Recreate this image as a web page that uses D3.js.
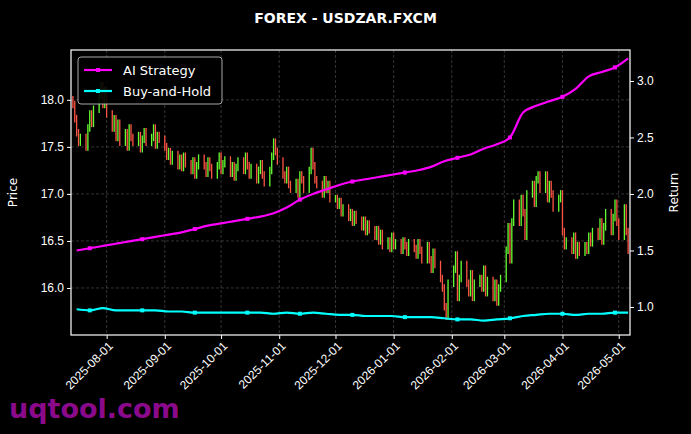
<!DOCTYPE html>
<html><head><meta charset="utf-8">
<script src="https://cdn.jsdelivr.net/npm/d3@7"></script>
<style>body{margin:0;background:#000}svg{font-family:"DejaVu Sans",sans-serif}</style>
</head><body><div id="root"></div>
<script>
// weekly blocks of business-day closes, week starting 2025-07-14
const closes = [
 17.95,17.80,17.65,17.55,17.60, 17.50,17.70,17.85,17.75,17.90, 18.05,18.15,17.95,18.10,17.85,
 17.70,17.80,17.60,17.75,17.55, 17.65,17.50,17.70,17.60,17.55, 17.62,17.48,17.58,17.66,17.55,
 17.60,17.70,17.52,17.62,17.58, 17.50,17.40,17.45,17.35,17.42, 17.30,17.38,17.28,17.40,17.32,
 17.25,17.35,17.20,17.30,17.38, 17.30,17.22,17.35,17.28,17.20, 17.30,17.40,17.25,17.32,17.36,
 17.22,17.30,17.18,17.28,17.35, 17.25,17.40,17.30,17.20,17.28, 17.15,17.25,17.32,17.20,17.12,
 17.25,17.40,17.55,17.45,17.35, 17.20,17.15,17.25,17.10,17.05, 17.12,17.00,17.20,17.15,17.05,
 17.25,17.45,17.30,17.15,17.10, 17.00,17.15,17.05,17.10,16.95, 16.95,16.88,16.92,16.80,16.85,
 16.75,16.80,16.70,16.78,16.72, 16.65,16.72,16.60,16.68,16.62, 16.55,16.62,16.50,16.58,16.45,
 16.50,16.42,16.55,16.45,16.48, 16.40,16.50,16.45,16.38,16.48, 16.42,16.35,16.48,16.40,16.30,
 16.45,16.30,16.20,16.38,16.25, 16.10,16.00,15.80,15.70,16.05, 16.20,16.35,15.90,16.10,16.25,
 16.05,15.95,16.15,15.90,16.05, 16.10,16.00,16.20,15.95,16.08, 15.90,16.05,15.85,16.00,16.10,
 16.40,16.65,16.30,16.70,16.90, 16.70,16.95,16.80,16.55,17.00, 17.10,16.90,17.15,17.20,17.05,
 17.20,16.95,17.10,17.00,16.85, 16.95,17.00,16.60,16.45,16.50, 16.40,16.55,16.35,16.45,16.38,
 16.45,16.40,16.55,16.48,16.60, 16.55,16.70,16.50,16.65,16.80, 16.60,16.75,16.90,16.70,16.55,
 16.85,16.60,16.40
];
const aiReturn = [1.50,1.52,1.54,1.56,1.58,1.60,1.62,1.64,1.66,1.69,1.72,1.74,1.76,1.78,1.80,1.83,1.88,1.95,2.00,2.04,2.08,2.11,2.13,2.15,2.17,2.19,2.21,2.24,2.29,2.32,2.35,2.40,2.44,2.50,2.72,2.78,2.82,2.86,2.93,3.04,3.08,3.12,3.20];
const bhReturn = [0.98,0.97,0.99,0.97,0.97,0.97,0.97,0.96,0.96,0.95,0.95,0.95,0.95,0.95,0.95,0.94,0.95,0.94,0.95,0.94,0.93,0.93,0.92,0.92,0.92,0.91,0.91,0.91,0.90,0.89,0.89,0.88,0.89,0.90,0.92,0.93,0.94,0.94,0.93,0.94,0.94,0.95,0.95];
const priceTicks = [16.0,16.5,17.0,17.5,18.0];
const returnTicks = [1.0,1.5,2.0,2.5,3.0];
const monthTicks = ["2025-08-01","2025-09-01","2025-10-01","2025-11-01","2025-12-01","2026-01-01","2026-02-01","2026-03-01","2026-04-01","2026-05-01"];

const w = 691, h = 434;
const margin = {top: 50, bottom: 99, left: 71, right: 61};
const parse = d3.timeParse("%Y-%m-%d");

// business days from 2025-07-14
const days = [];
let d = parse("2025-07-14");
while (days.length < closes.length) {
  if (d.getDay() != 0 && d.getDay() != 6) days.push(new Date(d));
  d = d3.timeDay.offset(d, 1);
}
const weeks = aiReturn.map((v, i) => d3.timeDay.offset(parse("2025-07-14"), i * 7 + 2));

const x = d3.scaleTime().domain([parse("2025-07-13"), parse("2026-05-07")]).range([margin.left, w - margin.right]);
const yP = d3.scaleLinear().domain([15.5, 18.53]).range([h - margin.bottom, margin.top]);
const yR = d3.scaleLinear().domain([0.752, 3.274]).range([h - margin.bottom, margin.top]);

const svg = d3.select("#root").append("svg").attr("width", w).attr("height", h);
svg.append("rect").attr("width", w).attr("height", h).attr("fill", "#000");

// grid
const grid = svg.append("g").attr("stroke", "#555").attr("stroke-dasharray", "3,2").attr("stroke-width", 0.6);
monthTicks.forEach(t => grid.append("line").attr("x1", x(parse(t))).attr("x2", x(parse(t))).attr("y1", margin.top).attr("y2", h - margin.bottom));
priceTicks.forEach(t => grid.append("line").attr("x1", margin.left).attr("x2", w - margin.right).attr("y1", yP(t)).attr("y2", yP(t)));

// candles (body plus short wick)
const openOf = i => i ? closes[i - 1] : closes[0] + 0.05;
svg.append("g").selectAll("line").data(closes).enter().append("line")
  .attr("x1", (c, i) => x(days[i])).attr("x2", (c, i) => x(days[i]))
  .attr("y1", (c, i) => yP(Math.max(c, openOf(i)) + 0.04)).attr("y2", (c, i) => yP(Math.min(c, openOf(i)) - 0.04))
  .attr("stroke", (c, i) => c >= openOf(i) ? "#66ff33" : "#ff5544")
  .attr("stroke-width", 1.3);

// return lines
const series = [{name: "AI Strategy", vals: aiReturn, color: "#ff00ff"}, {name: "Buy-and-Hold", vals: bhReturn, color: "#00ffff"}];
const line = d3.line().x((v, i) => x(weeks[i])).y(v => yR(v)).curve(d3.curveMonotoneX);
series.forEach(s => {
  svg.append("path").datum(s.vals).attr("d", line).attr("fill", "none").attr("stroke", s.color).attr("stroke-width", 2.2);
  svg.append("g").selectAll("rect").data(s.vals.filter((v, i) => i % 4 == 1)).enter().append("rect")
    .attr("x", (v, j) => x(weeks[j * 4 + 1]) - 2).attr("y", v => yR(v) - 2)
    .attr("width", 4).attr("height", 4).attr("fill", s.color);
});

// frame
svg.append("rect").attr("x", margin.left).attr("y", margin.top).attr("width", w - margin.left - margin.right)
  .attr("height", h - margin.top - margin.bottom).attr("fill", "none").attr("stroke", "#fff").attr("stroke-width", 1.2);

// axes
const style = g => { g.selectAll("path").remove(); g.selectAll("line").attr("stroke", "#fff"); g.selectAll("text").attr("fill", "#fff").style("font-size", "12px"); };
svg.append("g").attr("transform", "translate(0," + (h - margin.bottom) + ")")
  .call(d3.axisBottom(x).tickValues(monthTicks.map(parse)).tickFormat(d3.timeFormat("%Y-%m-%d")).tickSize(4))
  .call(style)
  .selectAll("text").attr("text-anchor", "end").attr("dx", "-0.3em").attr("dy", "0.5em").attr("transform", "rotate(-45)");
svg.append("g").attr("transform", "translate(" + margin.left + ",0)")
  .call(d3.axisLeft(yP).tickValues(priceTicks).tickFormat(d3.format(".1f")).tickSize(4)).call(style);
svg.append("g").attr("transform", "translate(" + (w - margin.right) + ",0)")
  .call(d3.axisRight(yR).tickValues(returnTicks).tickFormat(d3.format(".1f")).tickSize(4)).call(style);

svg.append("text").attr("x", 17).attr("y", (margin.top + h - margin.bottom) / 2).attr("transform", "rotate(-90,17," + ((margin.top + h - margin.bottom) / 2) + ")")
  .attr("text-anchor", "middle").attr("fill", "#fff").style("font-size", "12px").text("Price");
svg.append("text").attr("x", 678).attr("y", (margin.top + h - margin.bottom) / 2).attr("transform", "rotate(-90,678," + ((margin.top + h - margin.bottom) / 2) + ")")
  .attr("text-anchor", "middle").attr("fill", "#fff").style("font-size", "12px").text("Return");

svg.append("text").attr("x", w / 2).attr("y", 23).attr("text-anchor", "middle").attr("fill", "#fff")
  .style("font-size", "14px").style("font-weight", "bold").text("FOREX - USDZAR.FXCM");

// legend
const lg = svg.append("g");
lg.append("rect").attr("x", 78).attr("y", 57).attr("width", 144).attr("height", 47).attr("rx", 3)
  .attr("fill", "#000").attr("stroke", "#bbb").attr("opacity", 0.9);
series.forEach((s, i) => {
  const yy = 70 + i * 21;
  lg.append("line").attr("x1", 84).attr("x2", 112).attr("y1", yy).attr("y2", yy).attr("stroke", s.color).attr("stroke-width", 2.2);
  lg.append("rect").attr("x", 96).attr("y", yy - 2).attr("width", 4).attr("height", 4).attr("fill", s.color);
  lg.append("text").attr("x", 123).attr("y", yy).attr("dy", "0.35em").attr("fill", "#fff").style("font-size", "13px").text(s.name);
});

svg.append("text").attr("x", 9).attr("y", 418).attr("fill", "#8b0a8b").style("font-size", "27px").style("font-weight", "bold").text("uqtool.com");
</script></body></html>
